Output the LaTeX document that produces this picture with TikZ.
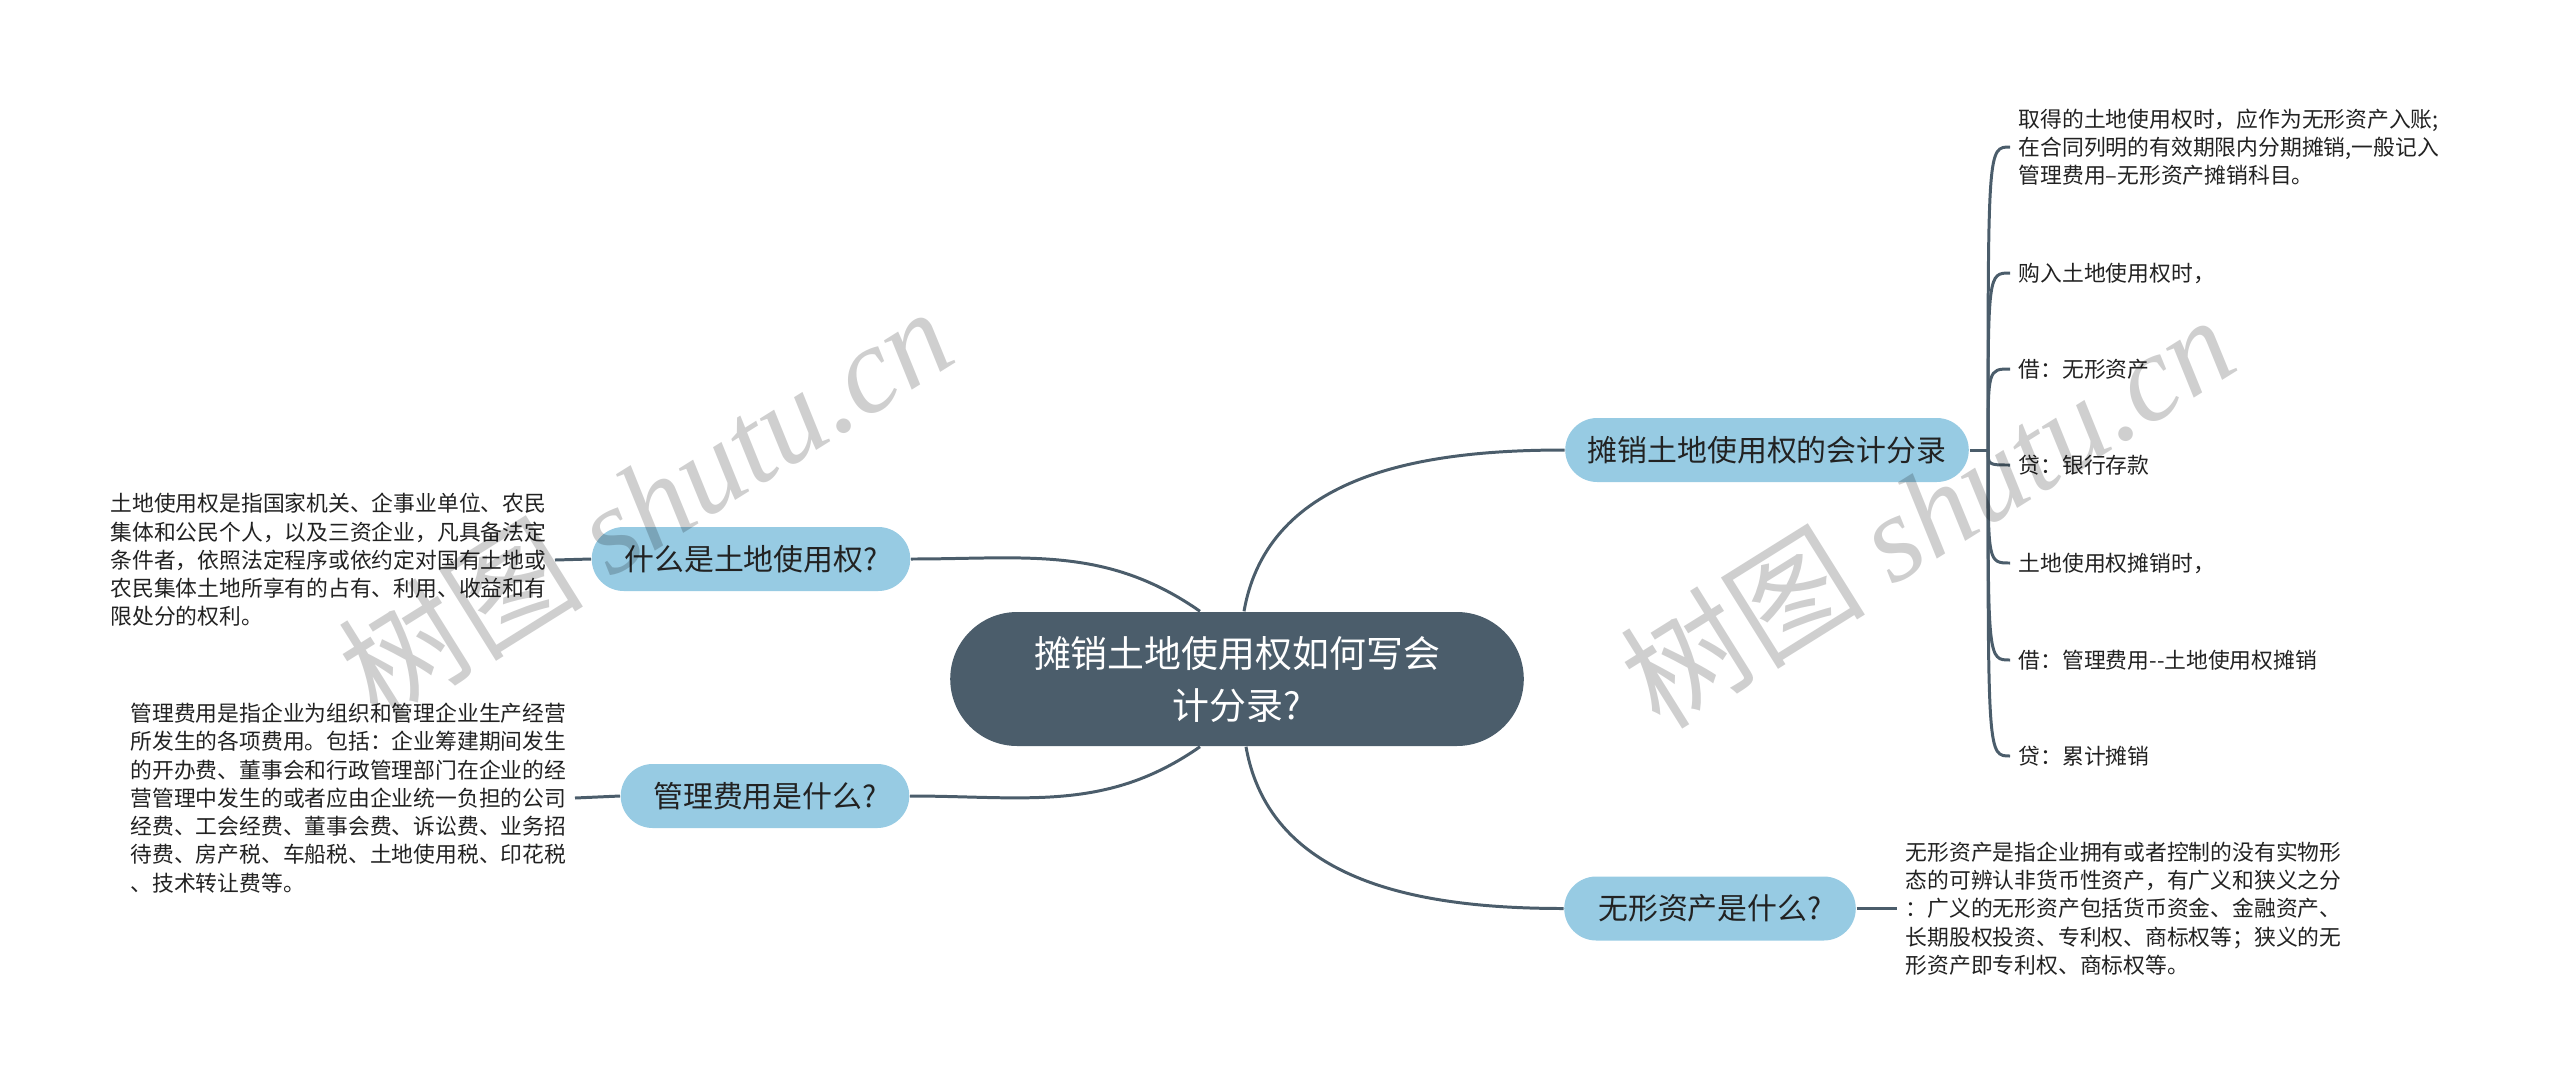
\documentclass[tikz,border=0pt]{standalone}
\usepackage{fontspec}
\setmainfont{Noto Sans CJK SC}
\newfontfamily\wmlatin{Liberation Serif}
\usetikzlibrary{shapes.misc}

\definecolor{rootfill}{HTML}{4B5D6B}
\definecolor{topicfill}{HTML}{97CBE3}
\definecolor{linkcol}{HTML}{4B5D6B}
\definecolor{txtcol}{HTML}{222222}

\tikzset{
	rootbox/.style={rounded rectangle, fill=rootfill, text=white, minimum width=5.97cm, minimum height=1.34cm, align=center, font=\fontsize{10.5}{14.8}\selectfont},
	topic/.style={rounded rectangle, fill=topicfill, text=txtcol, minimum width=#1, minimum height=0.64cm, font=\fontsize{8.5}{10}\selectfont},
	leaf/.style={inner xsep=0.08cm, inner ysep=0pt, align=left, text=txtcol, font=\fontsize{6.2}{8.05}\selectfont},
	link/.style={draw=linkcol, line width=0.85pt},
	wmark/.style={text=black, text opacity=0.19, rotate=32, font=\fontsize{35}{35}\selectfont}
}

\begin{document}
\begin{tikzpicture}
		%%%%% START %%%%%
		\useasboundingbox (0,0) rectangle (25.6,-10.82);
		
		\node[rootbox] (root) at (12.37,-6.79) {摊销土地使用权如何写会\\计分录?};
		
		\node[topic=4.27cm] (entry) at (17.67,-4.50) {摊销土地使用权的会计分录};
		\node[topic=3.42cm] (landq) at (7.51,-5.59) {什么是土地使用权?};
		\node[topic=3.12cm] (feeq) at (7.65,-7.96) {管理费用是什么?};
		\node[topic=3.15cm] (assetq) at (17.10,-9.085) {无形资产是什么?};
		
		\draw[link] ([xshift=0.07cm]root.north) to[out=80,in=180] (entry.west);
		\draw[link] (landq.east) to[out=0,in=145] ([xshift=-0.37cm]root.north);
		\draw[link] (feeq.east) to[out=0,in=215] ([xshift=-0.37cm]root.south);
		\draw[link] ([xshift=0.09cm]root.south) to[out=-80,in=180] (assetq.west);
		
		% entries on the right
		\node[leaf, anchor=west] (e1) at (20.10,-1.47) {取得的土地使用权时，应作为无形资产入账;\\在合同列明的有效期限内分期摊销,一般记入\\管理费用–无形资产摊销科目。};
		\node[leaf, anchor=west] (e2) at (20.10,-2.73) {购入土地使用权时，};
		\node[leaf, anchor=west] (e3) at (20.10,-3.69) {借：无形资产};
		\node[leaf, anchor=west] (e4) at (20.10,-4.65) {贷：银行存款};
		\node[leaf, anchor=west] (e5) at (20.10,-5.63) {土地使用权摊销时，};
		\node[leaf, anchor=west] (e6) at (20.10,-6.60) {借：管理费用-{}-土地使用权摊销};
		\node[leaf, anchor=west] (e7) at (20.10,-7.56) {贷：累计摊销};
		
		\coordinate (fork) at (19.88,-4.50);
		\draw[link] (entry.east) -- (fork);
		\foreach \e in {e1,e2,e3,e4,e5,e6,e7}
			\draw[link] (fork) .. controls (fork |- \e.west) and (fork |- \e.west) .. (\e.west);
		
		% explanations
		\node[leaf, anchor=east] (landt) at (5.55,-5.60) {土地使用权是指国家机关、企事业单位、农民\\集体和公民个人，以及三资企业，凡具备法定\\条件者，依照法定程序或依约定对国有土地或\\农民集体土地所享有的占有、利用、收益和有\\限处分的权利。};
		\node[leaf, anchor=east] (feet) at (5.75,-7.98) {管理费用是指企业为组织和管理企业生产经营\\所发生的各项费用。包括：企业筹建期间发生\\的开办费、董事会和行政管理部门在企业的经\\营管理中发生的或者应由企业统一负担的公司\\经费、工会经费、董事会费、诉讼费、业务招\\待费、房产税、车船税、土地使用税、印花税\\、技术转让费等。};
		\node[leaf, anchor=west] (assett) at (18.97,-9.085) {无形资产是指企业拥有或者控制的没有实物形\\态的可辨认非货币性资产，有广义和狭义之分\\：广义的无形资产包括货币资金、金融资产、\\长期股权投资、专利权、商标权等；狭义的无\\形资产即专利权、商标权等。};
		
		\draw[link] (landq.west) -- (landt.east);
		\draw[link] (feeq.west) -- (feet.east);
		\draw[link] (assetq.east) -- (assett.west);
		
		% watermark
		\node[wmark] (wm1) at (6.45,-5.02) {树图 {\wmlatin\itshape shutu.cn}};
		\node[wmark] (wm2) at (19.27,-5.10) {树图 {\wmlatin\itshape shutu.cn}};
		%%%%% END %%%%%
\end{tikzpicture}
\end{document}
